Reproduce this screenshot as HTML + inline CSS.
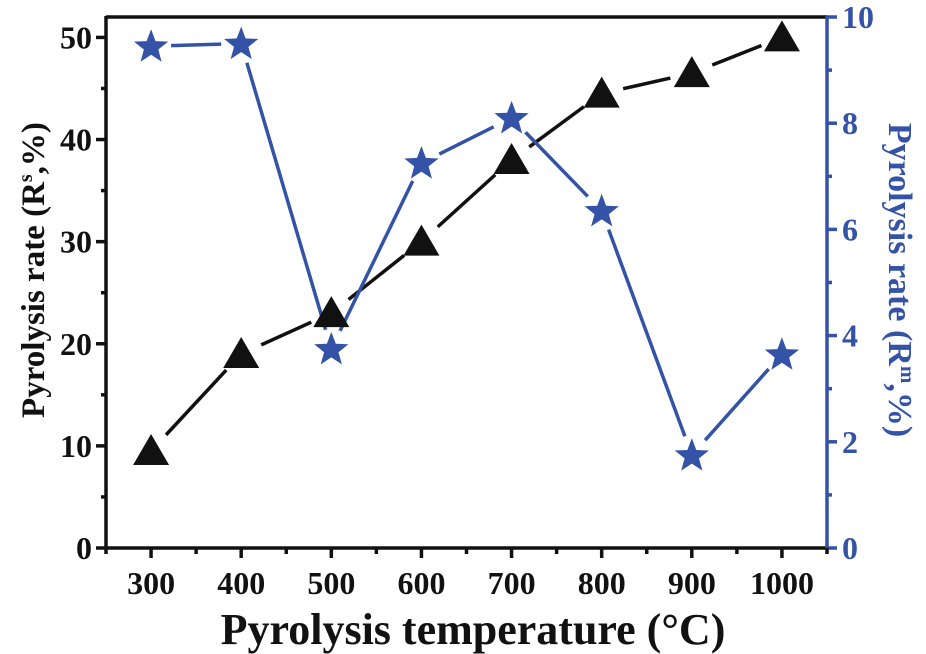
<!DOCTYPE html>
<html><head><meta charset="utf-8"><style>
html,body{margin:0;padding:0;background:#fff;}
svg{display:block;font-family:"Liberation Serif",serif;font-weight:bold;}
</style></head><body>
<svg id="chart" width="926" height="654" viewBox="0 0 926 654" xmlns="http://www.w3.org/2000/svg">
<g id="g"></g>
</svg>
<script>
const temps=[300,400,500,600,700,800,900,1000];
const rsValues=[9.5,19,23,30,38,44.5,46.5,50];
const rmValues=[9.45,9.5,3.75,7.25,8.1,6.35,1.75,3.65];
const leftTicks=[0,10,20,30,40,50];
const rightTicks=[0,2,4,6,8,10];
const xTicks=[300,400,500,600,700,800,900,1000];
const L=106,R=827,T=17,B=548,BLUE="#3453a6";
const xs=v=>L+(v-250)/800*(R-L);
const yl=v=>B-v/52*(B-T);
const yr=v=>B-v/10*(B-T);
const g=document.getElementById('g');
const NS="http://www.w3.org/2000/svg";
function mk(t,a,p){const e=document.createElementNS(NS,t);for(const k in a)e.setAttribute(k,a[k]);(p||g).appendChild(e);return e;}
let e;
e=mk('line',{x1:L,y1:T,x2:R,y2:T,stroke:'#111','stroke-width':3.5});


e=mk('line',{x1:L,y1:T-1,x2:L,y2:B+1,stroke:'#111','stroke-width':3.5});


e=mk('line',{x1:L,y1:B,x2:R,y2:B,stroke:'#111','stroke-width':3.5});


e=mk('line',{x1:R,y1:T-1,x2:R,y2:B+1,stroke:BLUE,'stroke-width':3.5});


for(let v=0;v<=50;v+=5){const maj=v%10===0;
 e=mk('line',{x1:L-(maj?10:5),y1:yl(v),x2:L,y2:yl(v),stroke:'#111','stroke-width':3.5});
 
 }
leftTicks.forEach(v=>{e=mk('text',{x:L-14,y:yl(v)+11,'text-anchor':'end','font-size':32,fill:'#111'});e.textContent=v;
 
 });
for(let v=0;v<=10;v+=1){const maj=v%2===0;
 e=mk('line',{x1:R,y1:yr(v),x2:R+(maj?10:5),y2:yr(v),stroke:BLUE,'stroke-width':3.5});
 
 }
rightTicks.forEach(v=>{e=mk('text',{x:R+15,y:yr(v)+11,'text-anchor':'start','font-size':32,fill:BLUE});e.textContent=v;
 
 });
for(let v=250;v<=1050;v+=50){const maj=v%100===0;
 e=mk('line',{x1:xs(v),y1:B,x2:xs(v),y2:B+(maj?10:6),stroke:'#111','stroke-width':3.5});
 
 }
xTicks.forEach(v=>{e=mk('text',{x:xs(v),y:B+46,'text-anchor':'middle','font-size':32,fill:'#111'});e.textContent=v;
 
 });
e=mk('text',{x:473,y:644,'text-anchor':'middle','font-size':44,fill:'#111'});
e.textContent='Pyrolysis temperature (°C)';


e=mk('text',{x:0,y:0,'text-anchor':'middle','font-size':33,fill:'#111',transform:'translate(44,270) rotate(-90)'});
e.innerHTML='Pyrolysis rate (R<tspan font-size="20" dy="-12">s</tspan><tspan dy="12">,%)</tspan>';


e=mk('text',{x:0,y:0,'text-anchor':'middle','font-size':34,fill:BLUE,transform:'translate(889,280) rotate(90)'});
e.innerHTML='Pyrolysis rate (R<tspan font-size="21" dy="-12">m</tspan><tspan dy="12">,%)</tspan>';


function seg(xa,ya,xb,yb,gap,col,name){const dx=xb-xa,dy=yb-ya,d=Math.hypot(dx,dy);if(d<2*gap)return;
 e=mk('line',{x1:xa+dx/d*gap,y1:ya+dy/d*gap,x2:xb-dx/d*gap,y2:yb-dy/d*gap,stroke:col,'stroke-width':3.5});
 
 }
for(let i=0;i<temps.length-1;i++){seg(xs(temps[i]),yl(rsValues[i]),xs(temps[i+1]),yl(rsValues[i+1]),22,'#111','rs-line-segment');}
for(let i=0;i<temps.length-1;i++){seg(xs(temps[i]),yr(rmValues[i]),xs(temps[i+1]),yr(rmValues[i+1]),20,BLUE,'rm-line-segment');}
temps.forEach((t,i)=>{const x=xs(t),y=yl(rsValues[i]);
 e=mk('polygon',{points:`${x},${y-17} ${x-18},${y+14} ${x+18},${y+14}`,fill:'#111'});
 
 });
function star(cx,cy,r){let p=[];for(let k=0;k<10;k++){const a=-Math.PI/2+k*Math.PI/5;const rr=k%2?r*0.42:r;p.push((cx+rr*Math.cos(a)).toFixed(1)+','+(cy+rr*Math.sin(a)).toFixed(1));}return p.join(' ');}
temps.forEach((t,i)=>{
 e=mk('polygon',{points:star(xs(t),yr(rmValues[i])+1,18),fill:BLUE});
 
 });
</script>
</body></html>
